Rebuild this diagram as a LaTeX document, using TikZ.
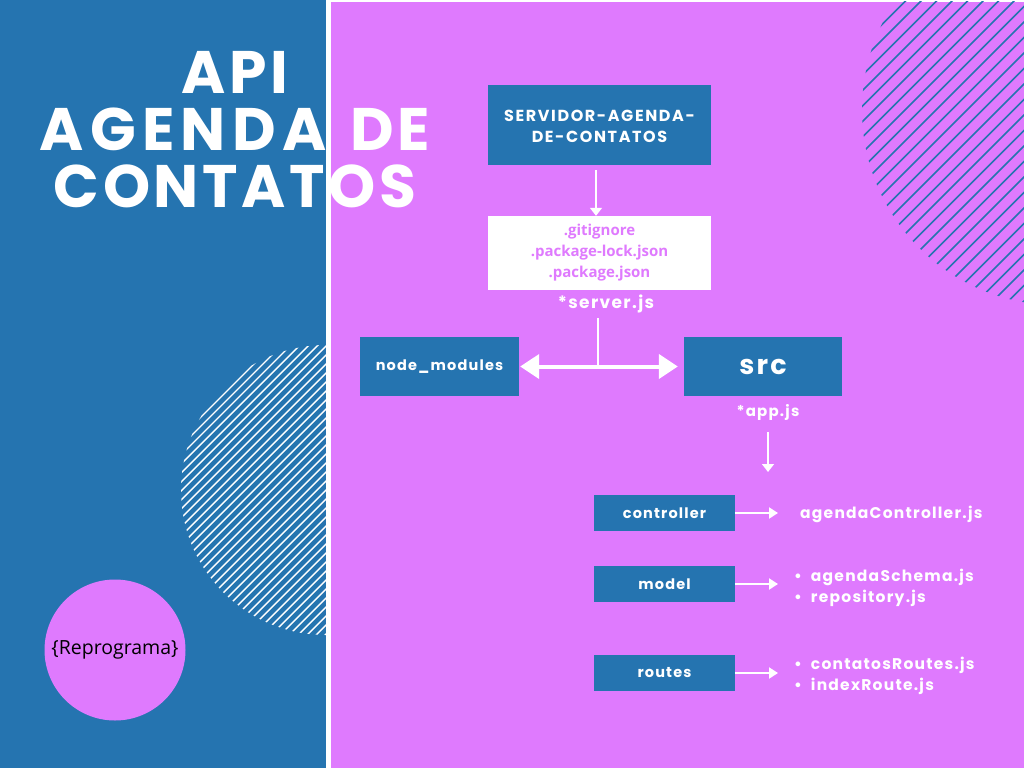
\documentclass[tikz,border=0pt]{standalone}
\usepackage{fontspec}
\setmainfont{Open Sans}
\newfontfamily\popfont{Poppins}[LetterSpace=8]
\newfontfamily\popwide{Poppins}[LetterSpace=10]
\newfontfamily\poptitle{Poppins}[LetterSpace=6]
\newfontfamily\poptitlewide{Poppins}[LetterSpace=10.5]
\usetikzlibrary{arrows.meta}
\definecolor{bluebg}{RGB}{37,116,176}
\definecolor{purplebg}{RGB}{223,122,254}
\tikzset{
  bluebox/.style={fill=bluebg, text=white, inner sep=0pt, align=center, font=\popfont\bfseries\fontsize{14.5}{21}\selectfont},
  titletext/.style={text=white, inner sep=0pt, anchor=base, font=\poptitle\bfseries\fontsize{60}{57}\selectfont},
  labeltext/.style={text=white, inner sep=0pt, font=\popfont\bfseries\fontsize{16}{21}\selectfont},
  listtext/.style={text=white, inner sep=0pt, anchor=west, align=left, font=\popfont\bfseries\fontsize{15.5}{21}\selectfont},
  arr/.style={white, line width=2pt, -{Triangle[length=9pt,width=11pt]}},
  downarr/.style={white, line width=1.5pt, -{Triangle[length=8pt,width=12pt]}},
  bigarr/.style={white, line width=4pt, {Triangle[length=19pt,width=24pt]}-{Triangle[length=19pt,width=24pt]}},
  hatchblue/.style={bluebg, line width=1.7pt},
  hatchwhite/.style={white, line width=1.4pt}
}
\begin{document}
\begin{tikzpicture}[x=1pt,y=-1pt]
\useasboundingbox (0,0) rectangle (1024,768);
\fill[white] (0,0) rectangle (1024,768);
\fill[bluebg] (0,0) rectangle (326,768);
\fill[purplebg] (331,2) rectangle (1024,768);
% hatched circle top right
\begin{scope}
  \clip (331,2) rectangle (1024,768);
  \clip (1057,110) circle (195pt);
  \foreach \c in {860,875.5,...,1470} \draw[hatchblue] (\c,0) -- ++(-700,700);
\end{scope}
% hatched circle left
\begin{scope}
  \clip (0,0) rectangle (326,768);
  \clip (326,490) circle (145pt);
  \foreach \c in {600,609,...,1040} \draw[hatchwhite] (\c,0) -- ++(-800,800);
\end{scope}
% title
\node[titletext] (t1) at (235,93) {API};
\node[titletext] (t2) at (235,150) {{\poptitlewide AGENDA}\hspace{8pt} DE};
\node[titletext] (t3) at (235,207) {CONTATOS};
% reprograma
\node[circle, fill=purplebg, minimum size=141pt, inner sep=0pt, text=black, font=\fontsize{19.5}{22}\selectfont] (rep) at (115,650) {\{Reprograma\}};
% server box
\node[bluebox, minimum width=223pt, minimum height=80pt, font=\popwide\bfseries\fontsize{16}{21.5}\selectfont] (srv) at (599.5,125) {\rule{0pt}{14pt}SERVIDOR-AGENDA-\\DE-CONTATOS};
\node[fill=white, minimum width=223pt, minimum height=74pt, inner sep=0pt, align=center, text=purplebg, font=\bfseries\fontsize{15}{21}\selectfont] (files) at (599.5,253) {.gitignore\\.package-lock.json\\.package.json};
\draw[downarr] (596,170) -- (files.north -| 596,0);
\node[labeltext, font=\popfont\bfseries\fontsize{17}{21}\selectfont] (server) at (606,304) {*server.js};
% node_modules and src
\node[bluebox, minimum width=159pt, minimum height=59pt] (nm) at (439.5,366.5) {node\_modules};
\node[bluebox, minimum width=158pt, minimum height=59pt, font=\popfont\bfseries\fontsize{27}{30}\selectfont] (src) at (763,366.5) {src};
\coordinate (j) at (598,367);
\draw[white, line width=1.3pt] (598,318) -- (j);
\draw[bigarr, shorten <=1pt, shorten >=6pt] (nm.east) -- (src.west);
\node[labeltext, font=\popfont\bfseries\fontsize{15}{21}\selectfont] (app) at (768,412) {*app.js};
\draw[downarr] (768,432) -- (768,472);
% folders
\node[bluebox, minimum width=141pt, minimum height=36pt] (ctrl) at (664.5,513) {controller};
\node[bluebox, minimum width=141pt, minimum height=36pt] (model) at (664.5,584) {model};
\node[bluebox, minimum width=141pt, minimum height=36pt] (routes) at (664.5,673) {routes};
\node[listtext] (l1) at (800,514) {agendaController.js};
\node[listtext] (l2) at (794,587.5) {\textbullet\hspace{9pt}agendaSchema.js\\\textbullet\hspace{9pt}repository.js};
\node[listtext] (l3) at (794,675.5) {\textbullet\hspace{9pt}contatosRoutes.js\\\textbullet\hspace{9pt}indexRoute.js};
\draw[arr] (ctrl.east) -- (778,513);
\draw[arr] (model.east) -- (778,584);
\draw[arr] (routes.east) -- (778,673);
\end{tikzpicture}
\end{document}
